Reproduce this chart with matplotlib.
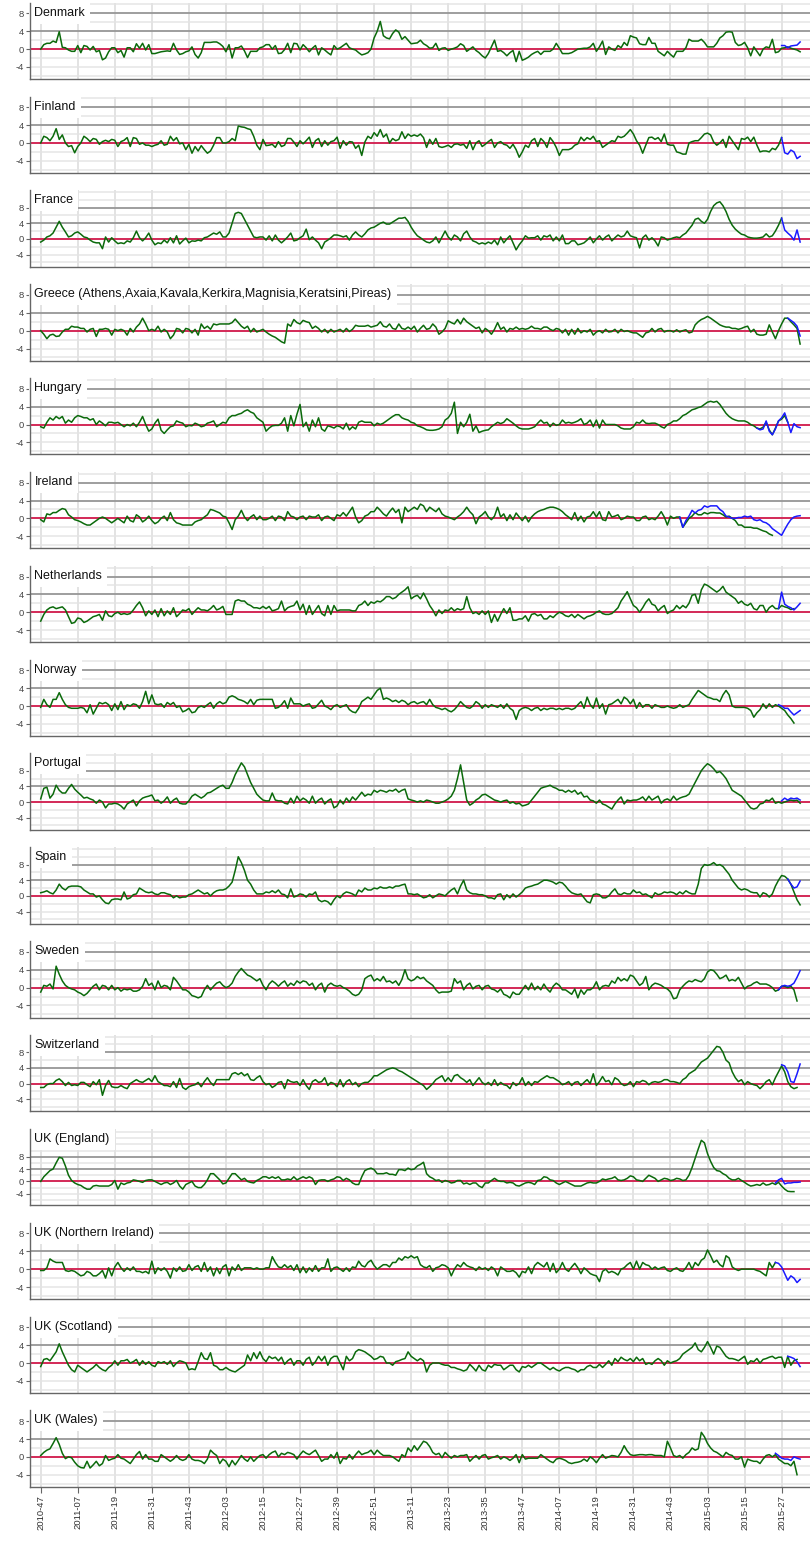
import matplotlib
matplotlib.use("Agg")
import matplotlib.pyplot as plt

# weekly z-scores, index 0 = 2010-47
tick_labels = ["2010-47", "2011-07", "2011-19", "2011-31", "2011-43", "2012-03",
               "2012-15", "2012-27", "2012-39", "2012-51", "2013-11", "2013-23",
               "2013-35", "2013-47", "2014-07", "2014-19", "2014-31", "2014-43",
               "2015-03", "2015-15", "2015-27"]

denmark = [0, 1.0, 1.3, 1.3, 1.8, 1.5, 3.9, 0.4, 0.3, -0.2, -0.5, -0.5,
           0.8, -0.8, 0.8, 0.6, -0.2, 0.6, -0.6, -0.3, -2.4, -2.0, -0.6, 0.3,
           0.3, -0.8, -0.3, -1.8, 0.3, 0.3, -0.6, 1.2, 0.2, 1.3, -0.2, 1.0,
           -1.0, -1.0, -0.8, -0.6, -0.5, -0.4, -0.5, 1.3, -0.2, -1.2, -1.0, -0.6,
           -0.4, 0.5, -1.2, -2.0, -0.8, 1.5, 1.5, 1.5, 1.6, 1.6, 1.2, 0.6,
           -0.6, 1.0, -2.0, 0.3, 0.3, 0.7, -0.4, -1.9, -0.5, -0.5, -0.5, 0.3,
           0.5, 1.0, 1.0, 0.0, 0.8, -1.0, -0.9, -0.1, 1.3, -0.8, 1.3, 1.2,
           -0.2, 1.0, 0.3, -0.6, 0.2, 0.8, -1.3, 0.3, -0.2, -0.8, -1.3, 0.8,
           0, 0.3, 0.8, 1.3, 0.3, 0, -0.2, -0.8, -1.3, -1.1, -0.8, 0,
           2.5, 4.0, 6.2, 3.0, 2.5, 2.3, 3.5, 4.3, 3.8, 2.2, 2.8, 2.0,
           1.2, 1.3, 1.4, 2.0, 1.2, 0.8, 0.2, 0.3, 1.3, -0.3, 0.2, 0.3,
           -0.3, 0, 0.2, 0.5, 1.2, 0.8, -0.5, 0, 0.5, -0.3, -0.8, -1.5,
           -2.0, -1.0, 0.5, 2.0, -0.5, -0.3, -0.8, -1.5, -0.8, -0.3, -2.8, -0.5,
           -2.5, -2.2, -1.8, -1.2, -0.8, -0.5, -1.2, -0.5, -0.5, -0.5, 0, 1.3,
           0.2, -1.0, -1.0, -1.0, -0.8, -0.4, 0, 0.1, 0.2, 0.2, 0.5, 1.3,
           -0.5, 0.5, 1.8, -1.2, 0.5, 0, -0.3, 0.8, 0.3, 1.5, 0.8, 3.0,
           2.7, 2.5, 1.2, 1.0, 1.0, 2.6, 1.3, 1.3, -0.5, -1.0, -1.5, -0.5,
           -1.2, -1.8, -0.5, -0.5, -0.5, 0.3, 2.2, 1.8, 1.8, 1.8, 2.2, 1.5,
           0.5, 0.5, 0.5, 1.3, 2.5, 3.0, 3.8, 3.9, 3.8, 1.5, 0.8, 1.0,
           1.5, 0.3, -1.5, 0.5, -0.5, -1.5, 0, 0.5, 0.3, 2.2, -0.8, -0.6,
           0.2, 0.3, 0.5, 0.2, 0, -0.2, -0.6]
denmark_blue_start = 240
denmark_blue = [0.8, 0.8, 0.3, 0.7, 0.8, 0.9, 1.6]

finland = [0, 1.5, 1.2, 0.5, 1.5, 3.2, 0.8, 1.8, 0, -0.8, -0.6, -2.2,
           -0.8, 0, 1.5, 1.0, 0.3, 1.0, 0.8, -0.3, 0.3, 0.6, 0.3, 0.8,
           0.6, -0.8, 0.3, 0.6, 1.2, -0.8, 1.2, 1.0, -0.3, 0, -0.5, -0.5,
           -0.8, -0.5, -0.3, 0.5, -0.5, -0.3, 1.5, 0.5, 1.2, -0.2, 0, -1.5,
           -0.3, -2.3, -0.8, -1.8, -0.6, -1.5, -2.3, -1.8, -0.5, 1.2, 1.2, 0,
           0, 0.3, 1.0, 0.5, 3.8, 3.6, 3.5, 3.2, 3.0, 1.5, -0.5, -1.5,
           0.8, -0.6, -0.5, -0.3, -1.0, 0.3, -0.8, -0.5, 1.0, 1.0, 0.2, -0.8,
           0.5, -0.2, 0.5, 1.3, -1.0, 0.5, 1.0, -0.8, 0.5, -0.5, 0.3, 0.5,
           1.3, -1.2, 0.5, -0.5, 0.3, 0.2, -1.2, -0.5, -2.8, 0.2, 1.5, 1.0,
           2.3, 1.5, 3.0, 1.3, 2.0, 0, 1.0, 0.5, 0.8, 2.5, 1.0, 2.0,
           1.5, 1.8, 1.5, 2.0, 1.2, -1.0, 0.8, -0.3, 1.0, -0.8, -1.0, -0.8,
           -0.5, -1.0, -0.3, -0.2, -0.5, -0.3, -1.2, 0.5, -1.5, 0, 0.5, -0.8,
           -0.3, 0.3, 0.8, -1.0, 0, 0.3, -0.3, -0.5, -1.2, -0.3, -1.5, -3.2,
           -2.0, -0.5, -1.0, 0.5, 1.0, -0.8, 1.0, 0.3, -1.0, 1.2, 0.3, -1.0,
           -2.8, -1.5, -1.5, -1.5, -1.2, -0.5, -0.2, 1.3, 0.5, 1.2, 0.8, 1.5,
           0.3, 0.5, -1.0, -0.5, 0, 0.5, 0.3, 1.5, 1.2, 1.5, 2.2, 3.0,
           2.0, 0.5, -0.5, -2.3, -0.5, 1.2, 1.3, 0.8, 1.2, 0.3, 2.0, -0.3,
           -0.5, -0.5, -2.0, -2.2, -2.5, -2.5, 0, 0.3, 0.5, 0.5, 1.2, 2.0,
           2.2, 1.8, 0.2, -0.5, 0, 0.8, -1.0, 1.5, 0.5, -0.5, -1.5, 1.0,
           0.8, 1.3, 0.3, 1.3, -0.5, -2.0, -1.8, -1.8, -2.0, -1.2, -1.5, -0.5,
           1.2]
finland_blue_start = 240
finland_blue = [1.2, -2.2, -2.5, -1.6, -2.0, -3.5, -3.0]

france = [-0.8, -0.3, 0.5, 0.8, 1.5, 3.0, 4.5, 3.0, 1.8, 0.5, 0.8, 1.5,
          1.8, 1.2, 0.5, 0.3, -0.3, -0.8, -1.0, -1.0, -2.5, 0.5, -0.8, 0.3,
          -0.5, -1.2, -1.0, -1.2, -0.5, -0.8, 0.3, 2.0, 0.3, -0.5, 0.3, 1.5,
          -0.3, -1.5, -1.0, -1.2, -0.3, -1.0, 0.3, -1.0, 0.8, -1.3, -0.5, 0.2,
          -1.0, -0.5, -0.6, -0.3, -0.5, 0.3, 0.5, 1.0, 1.5, 1.2, 1.8, 0.5,
          0.5, 1.5, 4.0, 6.5, 6.8, 6.5, 5.0, 3.5, 2.0, 0.5, 0.3, 0.5,
          0.5, -0.3, 0.8, -0.5, 1.0, -0.3, -1.0, -0.3, 0.5, 1.5, -0.5, -0.3,
          0.3, 0.8, 2.5, -0.2, 0.5, -0.3, -1.0, -2.5, -0.8, -0.3, 0.3, 1.0,
          1.0, 0.8, 0.5, 0.8, -0.3, 1.0, 1.8, 1.0, 0.5, 1.3, 2.3, 2.8,
          3.0, 3.5, 4.0, 4.3, 3.8, 3.8, 4.3, 4.8, 5.3, 5.3, 5.5, 4.5,
          3.0, 1.8, 0.8, 0.3, -0.3, -0.8, -1.0, -0.5, 0.5, -1.0, 0.5, 2.0,
          0.5, -0.3, 1.0, 0.5, -0.5, 1.3, 2.0, 0.5, -0.5, -0.8, -1.3, -1.0,
          -1.3, -0.8, -1.2, -0.3, -1.5, 0.5, -1.0, 0, 0.8, -1.0, -2.8, -1.5,
          -0.5, 0.8, 0.2, 0.3, 0.3, 0.8, -0.3, 0.8, 0.5, 1.0, -0.5, 0.5,
          -0.5, 1.0, -1.2, -1.2, -0.5, -0.5, -1.5, -1.3, -1.0, -0.3, 0.5, -1.0,
          0, 0.8, -0.3, 0.5, 1.0, -0.5, 0.3, 1.0, 0.5, 0.8, 2.0, 0.8,
          0.5, 0.3, -2.3, 0.3, 1.0, -0.3, 0.3, -0.5, -1.8, 0.5, 0.3, -0.3,
          0, 0.3, 0.5, 0.3, 1.0, 1.5, 2.5, 3.5, 5.0, 5.3, 4.5, 4.0,
          5.0, 7.0, 8.5, 9.2, 9.5, 8.5, 7.0, 5.0, 3.5, 2.5, 1.8, 1.2,
          1.0, 0.5, 0.3, 0.2, 0.2, 0.3, 0.5, 1.3, 0.5, 0.8, 2.0, 3.5,
          5.3]
france_blue_start = 240
france_blue = [5.3, 2.3, 1.5, 0.8, -0.3, 2.3, -0.8]

greece = [0, -0.8, -1.8, -1.0, -0.8, -1.3, -1.2, -0.3, 0.3, 0.3, 1.0, 0.8,
          0.8, 0.5, 0.5, -0.3, 0.3, 0.5, -1.3, 0.3, 0.3, 0.5, 0.3, -1.0,
          0.3, 0, 0.3, 0, -1.0, 0.5, -0.3, 0.8, 1.5, 2.8, 1.5, 0,
          0.3, 0, 1.0, -0.3, 0.3, -0.3, -1.8, -1.0, 0.5, 0.3, -0.5, 0.5,
          0.3, -0.5, 0.3, -1.0, 1.5, 0.5, 1.0, 0.3, 1.5, 1.3, 1.5, 1.5,
          1.5, 1.5, 1.8, 2.6, 1.8, 1.0, 0.5, 1.0, -0.3, 0.5, -0.3, 0,
          0.3, -0.3, -0.8, -1.2, -1.5, -2.0, -2.5, -2.8, 1.5, 1.0, 2.5, 1.8,
          1.5, 2.3, 2.0, 1.8, 0.5, 1.0, 0.5, -0.3, 0.3, -0.5, 0.3, -0.3,
          0, 0.3, -0.3, 0.5, -0.2, 0.3, 1.2, 1.0, 1.0, 1.0, 1.2, 0.8,
          1.0, 1.2, 2.0, 1.0, 0.8, 1.5, 0.5, 0.3, 1.5, 0.5, 0.3, 0.8,
          0.3, 1.0, -0.3, 0.5, 1.2, 0.3, 0.5, 1.5, 0.8, -0.8, -0.3, 0.5,
          2.2, 1.8, 1.5, 2.5, 1.5, 2.8, 2.0, 1.5, 1.0, 0.5, 0.8, -0.5,
          0.5, 0, -0.8, 0.3, 1.8, 0.3, 0.8, -0.3, 0.5, 0.3, 0.8, 0.3,
          0.5, 0.3, 0.5, 1.0, 0.5, 0.5, 0.3, 0.8, 0.8, 0.3, 0, 0.5,
          0.3, -0.5, 0.3, -1.0, 0.3, -0.8, 0.5, -0.5, 0, -0.3, 0.3, -1.0,
          -0.3, 0, -0.5, 0.3, -0.3, -0.2, 0.3, -0.5, 0.3, -0.2, 0, -0.3,
          -0.5, -0.5, -1.0, -1.5, -0.5, -0.3, 0.5, -0.3, 0.3, 0.5, -0.3, 0,
          0, -0.3, 0.2, -0.3, 0, 0.2, -0.5, -0.3, 1.3, 2.0, 2.5, 2.8,
          3.2, 2.8, 2.3, 1.8, 1.3, 1.0, 0.8, 0.8, 0.5, 0.5, 0.3, 0.5,
          0.8, 1.0, -0.3, 0.3, -0.8, -1.0, -1.0, -0.8, 1.3, -0.3, -1.8, 0,
          1.5, 2.8, 2.8, 2.0, 1.3, 0.5, -3.0]
greece_blue_start = 242
greece_blue = [2.8, 2.3, 1.8, 1.0, -1.2]

hungary = [-0.5, -0.8, 0.5, 1.5, 1.0, 1.8, 1.3, 1.8, 0.3, 1.0, 0.5, 1.5,
           2.0, 1.8, 1.5, 1.5, 1.0, 1.3, 0, 0.8, 0.3, -0.3, 0.5, 0.5,
           0.3, 0.5, 0, -0.5, 0, -0.3, 0.3, -0.5, 0.5, 1.8, 0, -1.5,
           -1.0, 0.3, 1.2, -1.3, -2.0, -1.2, -0.5, -0.3, 0.8, 0.5, 0.3, -0.5,
           -0.2, -0.3, 0.3, 0, -0.5, -0.3, 0.3, 0.5, 0.8, -0.5, 0, 0.5,
           0.3, 1.5, 2.0, 2.0, 2.3, 2.5, 3.0, 3.3, 2.8, 2.5, 1.5, 1.0,
           0.5, -1.5, -0.8, -0.3, -0.2, -0.2, 0.3, 1.5, -1.5, 2.0, -0.3, 2.3,
           4.5, -0.5, 0.5, -1.5, 1.0, -0.5, 1.5, -1.0, -1.5, -0.3, -0.5, -0.8,
           -0.3, -0.5, -1.0, 0.3, -1.2, -0.5, -1.0, 0.5, 0.8, 0.5, 0.5, 0.5,
           -0.3, 0.3, 0, 0.3, 0.8, 1.3, 1.8, 2.2, 2.2, 1.5, 1.2, 1.0,
           0.5, 0.3, -0.3, -0.5, -0.8, -1.2, -1.3, -1.3, -1.2, -1.0, -0.5, 1.0,
           1.5, 2.5, 5.0, -2.0, 0.5, -0.5, 0.5, 2.3, -1.5, -0.3, -1.8, -1.5,
           -1.3, -1.2, -0.5, 0, 0.5, 0.2, 0.5, 1.3, 0.8, 0.3, -0.3, -0.8,
           -1.0, -1.0, -1.0, -0.8, -0.5, 0.3, 1.0, 0.3, 0.5, -0.5, 0.3, -0.2,
           0, 1.0, 0.3, 0.5, 0.3, 0.5, 0.8, 1.3, 0, 0.3, 1.0, -0.5,
           1.0, -0.8, 1.0, 0, 0, 0, 0, -0.3, -0.8, -1.0, -1.0, -1.0,
           -0.5, 0.5, 0.3, 1.0, 0.3, 0.2, 0.3, 0.3, 0, -0.5, -0.8, 0,
           0.3, 0.8, 0.8, 1.3, 2.0, 2.3, 2.8, 3.3, 3.5, 3.8, 4.0, 4.5,
           5.0, 5.2, 5.0, 5.2, 4.5, 3.5, 2.5, 1.8, 1.3, 1.0, 0.8, 0.8,
           0.8, 0.5, 0, -0.3, -0.8, -1.0, -0.6, 0.5, -1.2, -2.3, -0.8, 0.8,
           1.2, 2.0, 0.5]
hungary_blue_start = 232
hungary_blue = [-0.8, -1.2, -1.0, 0.8, -1.5, -2.3, -1.0, 0.8, 1.5, 2.6, 0.5, -1.8,
                0.2, -0.5, -0.7]

ireland = [-0.3, -0.8, 1.0, 0.8, 1.3, 1.3, 1.8, 2.2, 2.0, 0.8, 0.3, -0.3,
           -0.5, -0.8, -1.2, -1.5, -1.5, -1.0, -0.5, 0, 0.3, 0, -0.5, -1.0,
           -0.5, 0, -0.5, -1.0, 0.5, -0.5, -0.8, 0.8, 0.3, -0.8, -0.3, 0.5,
           -0.5, -1.2, -0.8, 0, 0.5, -0.5, 1.3, -0.3, -1.0, -1.2, -1.5, -1.5,
           -1.5, -1.5, -0.8, -0.5, -0.3, 0.3, 0.8, 2.0, 1.8, 1.5, 1.2, 0.5,
           0.3, -1.0, -2.5, -0.3, 0.5, 1.8, 0.3, -0.5, 0.3, 0.8, -0.3, 0.5,
           -0.3, -0.3, 0, 0.5, -0.5, 0.5, 0.3, -0.5, 1.5, 0.5, 0.3, -0.3,
           0.3, 0.5, -0.3, 0.5, 0.3, 0.3, 0.8, -0.5, 0.3, 0.5, 0, -0.5,
           0.8, 0.5, 1.3, 0.5, 1.5, 2.5, 0.3, -1.0, -0.5, 0.5, 0.8, 1.5,
           1.5, 2.5, 1.8, 1.0, 0.5, 1.5, 2.3, 1.3, 2.0, -1.0, 2.5, 1.5,
           2.0, 2.5, 2.0, 3.2, 2.8, 1.5, 2.5, 2.0, 1.5, 2.3, 1.0, 0.5,
           0.3, 0, -0.3, 0.3, 0.8, 1.5, 2.5, 1.5, 0.8, -1.2, 0.3, 0.8,
           1.5, 0.3, -0.3, 0.5, 2.5, 0.3, 1.0, -0.5, 0.8, -0.3, 1.2, 0.3,
           -0.5, 0.5, -0.8, 0.3, 1.0, 1.5, 1.8, 2.0, 2.3, 2.5, 2.5, 2.3,
           2.0, 1.5, 0.8, 0.3, -0.3, 1.3, -0.5, 0.5, -0.8, 0.3, 0.5, 1.5,
           0.3, 1.5, -0.3, -0.5, 1.5, 0.3, 0.5, 0.8, -0.3, 0, 0.5, 0.3,
           0.3, -0.5, -0.5, 0.3, 0.5, -0.3, 0, -0.3, 0.5, 1.5, 0.3, -1.5,
           0.5, 0, 0.3, 0.3, -2.0, -1.0, 0, 0.5, 1.3, 0.8, 0.8, 1.3,
           1.0, 1.3, 1.3, 1.2, 1.2, 0.8, 0.3, 0.5, 0, -0.5, -1.5, -1.5,
           -2.0, -2.0, -2.0, -2.2, -2.2, -2.5, -2.8, -3.0, -3.5, -3.8]
ireland_blue_start = 207
ireland_blue = [0.3, -2.0, -0.5, 0.5, 1.8, 1.2, 1.8, 2.0, 2.8, 2.5, 2.8, 2.8,
                2.8, 2.0, 1.5, 0.5, 0.3, 0, 0, 0.2, 0.2, 0.5, 0.3, 0.5,
                -0.3, -0.5, -0.3, -0.8, -1.0, -1.5, -2.3, -2.8, -3.3, -3.8, -2.5, -1.3,
                -0.3, 0.3, 0.5, 0.6]

netherlands = [-2.0, -0.5, 0.5, 1.0, 1.2, 0.8, 1.0, 1.2, 0.5, -1.0, -2.5, -2.3,
               -1.3, -1.5, -2.3, -2.0, -1.5, -1.0, -0.8, -0.5, -1.8, 0.3, -0.8, -1.0,
               -0.3, 0, -0.5, -0.3, -0.5, -0.3, 0.5, 1.5, 2.3, 1.0, -0.8, 0.3,
               -0.5, 0.5, -1.0, 0.8, -0.8, 0.3, -0.5, 1.0, -1.0, -0.3, 0.5, 0.3,
               0.8, -0.5, 0.3, 1.0, 0.5, 0.5, 0.3, 0.8, 1.5, 0.5, 0.8, 1.3,
               -0.5, -0.5, -0.5, 2.5, 2.8, 2.5, 2.5, 1.8, 1.5, 1.0, 1.0, 0.8,
               1.3, 0.8, 1.3, 0.3, 0.5, 0.8, 2.5, 0.3, 1.0, 1.3, 1.5, 2.5,
               0.5, 1.8, -0.5, 1.5, -0.5, 0.5, 1.5, -0.3, -0.8, 1.5, -0.5, 1.5,
               0.3, 0.5, 0.5, 0.5, 0.5, 0.3, 0.3, 1.5, 1.8, 2.5, 1.5, 2.3,
               2.0, 2.5, 2.3, 2.8, 3.5, 3.5, 3.0, 3.3, 4.0, 4.5, 5.0, 5.7,
               3.0, 3.5, 3.8, 3.0, 4.3, 3.0, 1.5, 0.5, -0.8, 0.5, -0.3, 0.5,
               0.3, 1.0, 0.3, 0.8, 0.5, 0.8, 3.5, 1.0, -0.3, 0, -0.5, 0.3,
               -0.5, 0.3, -2.3, -0.5, -2.0, -0.5, 0.8, -0.3, 1.0, -1.8, -1.8, -1.5,
               -1.5, -0.8, -2.0, -0.5, -0.3, -0.8, -0.5, -1.5, -1.5, -0.8, -1.2, -0.5,
               0, -0.3, -0.8, -1.0, -0.5, -1.2, -0.5, -1.0, -1.5, -1.0, -0.8, -0.5,
               0, 0.3, -0.3, -0.5, -0.5, -0.3, 0.3, 1.0, 2.5, 3.5, 4.6, 3.0,
               1.5, 1.0, 0, 1.0, 2.2, 3.0, 1.8, 1.5, 0.3, 1.0, 1.5, -0.3,
               0.2, 0.5, 1.5, 0.8, 1.5, 1.0, 2.0, 3.8, 4.0, 2.0, 5.0, 6.3,
               6.0, 5.5, 5.0, 4.5, 5.0, 5.8, 4.5, 4.0, 3.5, 3.0, 2.0, 2.5,
               1.8, 1.5, 2.0, 0.8, 0.5, 1.5, 1.5, 0, 1.0, 1.5, 0.8, 0.8,
               1.5, 1.2, 1.0, 0.6, 0.8]
netherlands_blue_start = 239
netherlands_blue = [0.8, 4.5, 1.8, 1.3, 1.0, 0.5, 1.2, 2.0]

norway = [-0.3, 1.5, 0.3, -0.3, 1.5, 1.5, 3.0, 1.5, 0.3, -0.3, -0.5, -0.5,
          -0.5, -0.3, -0.5, -1.5, 0.3, -1.8, -0.5, 0.8, 0.5, 0.8, 0.3, -1.0,
          0.5, -0.8, 1.0, -0.8, 0.3, 0, 0.5, 0.3, -0.5, 1.0, 3.3, 0.5,
          2.5, 0.5, 0.3, 0.5, -0.3, 0.8, 0.3, 0.8, -0.3, 0, -1.3, -1.0,
          -0.5, -1.5, -1.3, -0.3, 0, -0.3, 0.3, 0.8, -0.5, 0.5, 1.0, 0.5,
          0.8, 2.0, 2.3, 2.0, 1.5, 1.3, 1.0, 0.5, 1.5, 0.3, 1.3, 1.5,
          1.5, 1.5, 1.5, 1.5, -0.5, -0.3, 0.3, 1.2, -0.5, 1.8, 0.5, 0.5,
          0.5, 0, 0.3, 0.5, -0.5, -0.3, 0.5, 1.3, 0, -0.3, -0.8, 0,
          0.3, -0.3, 0, 0.3, -0.8, -1.3, -1.5, -0.5, 1.0, 1.5, 2.0, 1.5,
          2.5, 3.5, 4.0, 1.5, 1.8, 1.5, 1.0, 1.3, 0.8, 1.3, 1.0, 0.3,
          0.8, 1.0, 0.5, 0.8, 1.0, 0.3, 1.5, 0.3, -0.3, -0.5, -0.8, -0.5,
          -1.0, -1.3, -0.8, 0, 1.0, 0.3, -0.3, -0.5, 0, 1.0, 0.5, -0.5,
          0.3, -0.3, 0.3, 0, -0.3, 0.3, -0.5, 0.5, -0.5, -1.0, -3.0, -1.0,
          -0.5, -0.3, -0.5, -1.0, -0.5, -0.3, -1.0, -0.5, -0.8, -0.5, -0.5, -0.8,
          -0.5, -0.8, -0.5, -0.5, -0.8, -0.5, 0.3, 1.0, -0.5, 2.0, 0.3, -0.5,
          1.8, -0.5, 0.5, -1.8, 0.3, 0.5, 1.0, 1.5, 0.5, 2.0, 1.5, 0.5,
          1.5, -0.5, 0.8, -0.3, 0.3, 0.3, -0.5, 0.3, 0, -0.3, -0.3, 0,
          -0.3, -0.5, -0.3, 0.3, -0.3, 0, 0.3, 1.5, 2.5, 3.5, 3.0, 2.5,
          2.0, 1.8, 1.5, 1.5, 1.0, 2.5, 3.5, 2.5, 0, -0.3, -0.3, -0.3,
          -0.3, -0.5, -1.0, -2.5, -1.5, -0.8, 0.5, -0.5, 0.5, -0.3, 0.3, 0,
          -0.5, -1.0, -2.0, -2.8, -3.8]
norway_blue_start = 239
norway_blue = [0.3, 0, -0.5, -0.5, -1.3, -2.0, -1.5, -1.0]

portugal = [0.8, 3.5, 3.8, 1.0, 2.0, 4.3, 3.0, 2.3, 2.3, 3.5, 4.5, 3.3,
            2.5, 1.8, 1.0, 1.2, 0.8, 0.5, -0.3, 0.5, 0, -1.5, -0.5, -0.5,
            -0.3, -0.5, -1.0, -1.8, -0.5, 0, 0.5, -1.0, 0.3, 1.0, 1.3, 1.5,
            1.8, 0.3, 0.5, -0.3, 0.3, 1.3, -0.3, 0.5, 1.0, -0.3, -0.5, -0.5,
            0.3, 1.5, 2.0, 1.5, 1.0, 1.5, 2.3, 2.5, 3.0, 3.5, 4.0, 4.3,
            3.5, 3.5, 5.0, 7.0, 8.5, 10.0, 9.0, 7.0, 5.0, 3.5, 2.0, 1.2,
            0.5, 0.3, 0.3, 2.3, 0.5, 0.3, 0.3, -0.3, -0.5, 1.0, -0.3, 1.5,
            0.3, 1.0, 0.5, -0.3, 1.5, -0.3, 0.5, 1.0, -0.5, 0.3, 0.8, -1.5,
            -1.0, 0.5, -0.5, 1.0, 0, 1.3, 0.5, 1.5, 2.5, 1.5, 2.0, 1.8,
            3.0, 2.5, 3.0, 2.8, 2.5, 3.0, 2.8, 3.3, 2.5, 3.0, 3.3, 0.8,
            0.5, 0.3, 0, 0.3, 0, 0.5, 0.3, 0, -0.3, -0.3, 0, 0.3,
            0.8, 1.5, 3.0, 6.0, 9.5, 5.0, 0.5, -0.8, -0.3, 0.5, 1.0, 1.8,
            2.0, 1.5, 1.0, 0.5, 0.3, 0, 0.3, 0.5, -0.3, 0, -0.5, -0.3,
            -1.0, -0.8, -0.5, 0.5, 1.5, 2.5, 3.5, 3.8, 4.0, 4.3, 3.8, 3.5,
            3.0, 3.0, 2.5, 3.0, 2.5, 3.0, 2.0, 2.5, 1.3, 1.5, 0.5, 0.3,
            -0.3, 0.5, -0.5, -0.8, -1.3, -1.8, -0.5, 0.5, 1.3, -0.5, 0.5, 0.3,
            0.5, 0.5, 0.8, 1.3, 0.3, 1.5, 0.5, 1.0, 1.5, -0.3, 0.5, 0.8,
            0.3, 1.5, 0.5, 1.0, 1.3, 1.5, 2.0, 3.5, 5.0, 6.5, 8.0, 9.0,
            9.8, 9.3, 8.5, 7.5, 7.8, 7.0, 6.0, 4.5, 3.0, 2.5, 2.0, 1.5,
            0.5, -0.5, -1.5, -1.8, -1.5, -0.5, -0.3, 0.5, 0.3, 1.0, -0.3, 0,
            -0.3, 0, 0.3, 0.5, 0.3, 0.5, -0.3]
portugal_blue_start = 240
portugal_blue = [0.3, 1.0, 0.5, 1.0, 0.8, 1.0, 0.5]

spain = [0.8, 1.0, 1.3, 0.8, 0.5, 1.5, 3.0, 2.0, 1.5, 2.3, 2.5, 2.5,
         2.5, 2.3, 1.5, 1.0, 0.5, 0.5, -0.3, 0, -1.0, -1.8, -2.0, -1.0,
         -0.8, -0.8, -1.0, 1.0, -0.8, -0.5, 0.3, 0.5, 2.0, 1.5, 1.0, 0.8,
         1.0, 0.5, 0.3, 0.8, 0.8, 0.5, 0.3, -0.5, 0, -0.5, -0.3, -0.3,
         0.3, 0.5, 1.0, 1.5, 1.0, 0.5, 0.8, 0, 0.8, 1.3, 1.5, 1.5,
         1.8, 2.5, 3.5, 6.5, 10.0, 8.5, 6.5, 4.0, 3.0, 1.5, 0.5, 0.5,
         0.5, 1.0, 0.8, 1.3, 0.8, 1.5, 0.5, 0.3, -0.5, 1.8, -0.3, 0,
         0.5, 0.3, -0.3, 0.5, 0.3, 1.0, -1.0, -1.5, -1.2, -1.5, -2.3, -1.0,
         0, -0.5, 0.5, 1.0, 0.8, 0.5, 0, 1.5, 1.0, 2.0, 1.5, 1.5,
         2.0, 1.8, 2.3, 2.0, 2.0, 2.3, 2.0, 2.5, 2.5, 2.8, 3.0, 0.5,
         0.5, 0.3, 0.5, 0, -0.5, -0.3, 0.3, -0.5, 0, 0.5, 0.3, 0,
         0.8, 1.5, 2.0, 0.5, 2.5, 4.0, 1.5, 0.8, 0.5, 0.5, 0.3, 0.3,
         0, -0.5, -0.5, -0.8, 0.3, 0.5, -1.0, 0.3, -0.5, 0.5, -0.3, 0.3,
         1.0, 2.0, 2.3, 2.5, 2.8, 3.0, 3.5, 4.0, 4.0, 3.8, 3.5, 3.0,
         3.5, 3.3, 2.5, 1.5, 0.8, 0.5, 0.3, 0.5, -0.5, -1.5, -1.8, 0.3,
         0.5, 0.3, -0.5, -0.5, 0, 1.0, 1.8, 0.5, 0.3, 0.8, 0.5, 0.5,
         1.5, 0.8, 1.0, 0.3, 0.5, 0, -0.5, 0.8, 0.3, 0.5, 1.0, 0.8,
         1.0, 0.8, 0.3, 1.0, 0.5, 1.3, 0.8, 0.5, 0.5, 3.0, 7.0, 8.0,
         7.8, 8.0, 8.5, 7.8, 8.0, 7.5, 6.5, 5.5, 4.0, 3.0, 2.0, 1.5,
         1.8, 1.5, 1.0, 0.8, 0.8, -0.3, 0.8, 0.5, -0.3, 0.5, 2.5, 4.0,
         5.2, 5.0, 4.3, 3.0, 1.0, -1.0, -2.3]
spain_blue_start = 242
spain_blue = [4.3, 3.0, 2.0, 2.3, 3.8]

sweden = [-1.0, 0.5, 0.3, 0.8, -0.3, 4.8, 3.0, 1.5, 0.5, 0, -0.3, -0.5,
          -1.0, -1.3, -1.8, -1.3, -0.5, 0.3, 0.8, -0.5, 0.5, 0.3, -0.5, 0.5,
          -0.5, 0, -0.8, -0.3, -0.5, -0.3, -0.8, -0.8, -0.5, 0.3, 2.0, 0.5,
          1.0, -0.5, 1.5, 0, 0.5, 0.3, -0.5, 2.3, 1.5, 0.5, -0.5, -0.5,
          -1.0, -1.8, -2.0, -2.3, -2.0, -0.5, 0.5, -0.5, 0.3, 1.0, 1.3, 0.5,
          0, 0.3, 1.0, 2.5, 3.5, 4.3, 3.5, 2.8, 2.5, 2.0, 1.5, 2.0,
          0.5, -0.5, 0.8, 1.5, 1.0, 0.3, 1.0, 1.5, 0.3, 1.0, 0.5, 1.5,
          1.0, 1.5, 1.3, 0.5, 1.0, -0.5, 0.5, 1.0, -1.0, 0.5, 1.0, 0.5,
          0.3, 0.5, 0, -0.3, -0.8, -1.5, -1.8, -1.5, -0.5, 2.0, 2.5, 2.8,
          1.5, 2.0, 1.5, 2.5, 1.3, 1.5, 1.0, 1.5, 0.5, 1.8, 4.0, 2.0,
          1.5, 1.8, 2.5, 2.0, 2.3, 1.5, 1.0, 0.5, -0.5, -1.2, -1.0, -1.0,
          -1.0, -0.8, 2.0, 1.0, 1.5, -0.5, 0.5, 1.0, -0.3, 0.3, 0.5, -0.5,
          0.3, 0.5, -0.3, -0.5, -1.0, -0.3, -1.5, -1.8, -2.3, -1.0, -1.5, -1.5,
          -0.5, 0.5, -0.5, 1.0, -0.5, 0.3, -0.5, 0.8, -0.3, -1.0, 0.3, 1.0,
          0.5, -0.5, -0.5, -1.0, -1.5, -0.3, -2.3, -0.5, -1.5, -0.5, -0.5, 0,
          1.3, -0.5, 0.3, 0.5, 0.3, 1.5, 1.0, 2.3, 1.5, 2.0, 1.5, 2.8,
          2.5, 1.5, 0.5, 1.0, 2.5, -0.5, 0.5, 1.0, 0.8, 0.5, 0, -0.3,
          -1.0, -2.5, -2.3, -0.5, 0.3, 1.0, 1.5, 1.3, 1.8, 1.5, 1.3, 2.0,
          3.5, 4.0, 3.8, 3.0, 2.0, 2.3, 2.8, 1.5, 1.8, 1.5, 2.3, 1.0,
          -0.3, 0.3, 0.5, 1.0, 1.3, 0.8, 0.8, 0.8, 0.5, 0, -0.8, -0.5,
          0.3, 0.3, 0, 0.3, -0.5, -3.0]
sweden_blue_start = 239
sweden_blue = [-0.5, 0.3, 0.5, 0.3, 0.5, 1.0, 2.3, 3.8]

switzerland = [-1.0, -1.0, -0.3, 0, 0, 0.8, 1.2, 0.5, -0.5, 0.3, -0.5, -0.3,
               -0.5, 0.3, 0.3, -0.3, -0.8, 0.5, -0.3, 1.0, -3.0, -0.5, 0.8, -0.8,
               -1.0, -1.0, -0.5, -1.0, -1.3, 0, 0.5, 1.0, 0.5, 0.3, 0.8, 1.3,
               0.5, 2.0, 0.5, 0, -0.5, -0.5, -0.8, 0.5, -1.0, 1.3, -1.0, -1.5,
               -0.8, -0.5, -0.3, 0.3, -0.8, 0.5, 1.5, 0.3, -0.5, 1.0, 1.0, 1.0,
               1.0, 1.0, 2.5, 2.8, 2.3, 2.8, 2.0, 2.5, 1.0, 0.8, 1.5, 2.0,
               0.5, -0.3, 0, -1.0, -0.5, 0.3, 0.5, -1.3, 1.0, 0.5, 0.3, 0.5,
               -0.5, 1.0, -0.5, -1.5, 0.5, 1.0, 0.3, 0.5, 1.5, -0.5, 0.3, 0,
               -0.8, 1.0, -0.8, 0.5, 1.0, -0.3, 0.3, -0.8, 0, 0.3, 0.3, 1.0,
               2.0, 2.0, 2.5, 3.0, 3.5, 3.8, 4.0, 3.8, 3.3, 3.0, 2.5, 2.0,
               1.5, 1.0, 0.5, 0, -0.5, -1.5, -0.8, 0, 1.0, 1.5, 2.0, 0.5,
               1.5, 0.5, 2.0, 2.3, 1.5, 1.0, 0.3, 1.0, -0.5, 0.5, 1.5, 0.3,
               -0.3, 0.3, -0.5, 1.0, -0.5, 0.3, -0.3, -0.5, -1.3, 0.3, -0.5, 0,
               1.5, -0.5, 0.5, -0.5, 0.5, 0.3, 1.0, 1.5, 2.0, 1.5, 1.5, 1.0,
               0.5, -0.3, 0, 0.5, -0.5, 0.3, 0.5, -0.5, 0.3, 1.0, 0, 2.5,
               -0.5, 0.5, 1.8, 0.5, 0.8, -0.3, 1.5, 1.0, 0, -0.5, -0.3, 0.5,
               -0.8, 0.5, 0.3, 0.8, 0.5, -0.3, 0.3, 0.5, 0.3, 0.5, 1.0, 1.0,
               0.5, 0.5, 0.3, 0, 1.0, 1.5, 2.5, 3.0, 3.5, 4.5, 5.5, 6.0,
               6.5, 7.5, 8.5, 9.5, 9.3, 8.0, 6.0, 5.3, 3.0, 1.5, 0.5, 1.0,
               -0.3, 0.5, 0, -0.3, -0.5, -1.3, -0.5, 0.5, 1.0, -0.3, 1.5, 3.0,
               4.5, 3.0, 0.5, -0.8, -1.3, -1.0]
switzerland_blue_start = 240
switzerland_blue = [4.8, 4.5, 3.0, 0.5, 0.3, 2.5, 5.0]

uk_england = [0, 1.5, 2.5, 3.5, 4.0, 6.0, 7.8, 7.5, 5.0, 2.0, 0.3, -0.5,
              -1.0, -1.3, -2.0, -2.5, -2.5, -1.5, -1.3, -1.5, -1.5, -1.5, -1.5, -1.0,
              0.3, -2.5, -0.5, -1.0, -0.5, -0.3, 0.5, 0.3, 0, -0.3, 0.3, 0.5,
              0.5, 0, -0.5, -1.0, -0.5, -0.3, -1.0, -0.5, 0.3, -1.5, -2.5, -1.0,
              -0.5, 0, -1.5, -2.0, -2.0, -1.0, 0.5, 2.5, 2.5, 1.5, 0.5, -0.8,
              -0.5, 1.0, 2.5, 2.5, 1.5, 0.5, 1.0, 0, -0.3, -0.5, 0.3, 0.8,
              1.5, 1.5, 1.0, 1.5, 1.0, 1.5, 0.5, 0.5, 0.8, 0.5, 1.5, 0.5,
              1.0, 1.5, 1.0, 1.5, 1.0, -1.0, 0.3, 0.5, 0.5, 0, 0.5, 0.8,
              1.5, 1.3, 0.3, 1.0, 0.5, -0.5, -1.0, -1.0, 1.5, 3.5, 4.0, 4.3,
              3.8, 2.5, 2.5, 2.5, 2.8, 2.3, 2.3, 2.0, 3.8, 3.8, 3.5, 4.3,
              3.8, 4.0, 5.0, 5.5, 6.2, 2.5, 1.5, 1.0, 0.3, 0.5, -0.3, 0.3,
              0, -0.5, -0.3, 0.3, 0.3, -0.8, -0.5, -1.0, -0.5, -0.5, -1.5, -2.0,
              -0.5, -0.5, 0.3, 1.0, 0.3, 0, 0, -0.5, -0.3, -0.5, -1.3, -1.5,
              -1.0, -0.5, -0.3, -0.5, -1.0, 0.3, 0.5, 1.5, 1.3, 0.5, 0.3, -0.5,
              -1.0, -0.5, 0, -0.5, -1.0, -1.5, -1.5, -1.5, -1.0, -0.5, -0.3, -0.5,
              -0.5, 0, 0.8, 0.5, 0.8, 1.0, 1.5, 0.5, 0.3, 0.5, 1.0, 1.8,
              1.5, 0.5, 0.3, 0, 1.0, 2.0, 1.5, 1.0, 0, 0.5, 1.0, 0.8,
              0.3, 0.5, 1.0, 0.8, 0.3, 0.5, 2.0, 4.5, 7.5, 10.5, 13.3, 12.5,
              9.0, 6.5, 4.5, 3.5, 3.3, 2.5, 2.0, 1.0, 0.5, 0.5, 1.0, 0.3,
              -0.3, -1.0, -1.5, -1.3, -1.0, -1.3, -0.5, -1.2, -1.0, -0.5, -1.0, -0.3,
              -1.5, -2.5, -3.2, -3.3, -3.3]
uk_england_blue_start = 238
uk_england_blue = [-0.5, 0.5, 1.0, -0.8, -0.5, -0.5, -0.3, -0.3, -0.2]

uk_ni = [-0.3, -0.3, 0.3, 2.3, 1.8, 1.5, 1.5, 1.5, -0.3, -0.5, -0.3, -0.5,
         -1.0, -1.5, -1.3, -0.5, -0.8, -1.5, -1.5, -1.0, -0.3, -2.0, 0.3, -1.5,
         0.5, 1.5, 0.3, -0.5, 0.3, -0.3, 0.5, -0.5, -0.5, -0.8, -0.5, -1.0,
         1.8, -1.0, 0.3, -0.3, 0.3, -0.5, -2.0, 0.3, -0.5, 0.5, -0.5, -0.3,
         1.0, -0.3, 0.5, 0.8, -0.5, 1.5, -0.5, 0.5, -1.5, 0.3, -1.0, 0.5,
         1.0, -1.5, 0.5, -0.3, 1.0, -0.3, 0.3, 0.3, 0.3, 0, 0.3, 0,
         0, 0.3, 0.3, 2.8, 1.5, 0.5, 0.3, 1.0, 0.3, 0.8, -0.3, 1.0,
         -0.8, 0.5, -0.8, 0.3, -0.5, 0.8, -0.5, 0.3, 0.3, 2.3, -0.5, 0.3,
         0.5, 0, -0.5, 0.3, -0.5, 0.5, 0.3, 1.8, 0.8, 0.5, 1.5, 2.0,
         0.8, 0, 0.5, 1.0, 1.0, 0.5, 1.5, 1.5, 2.5, 2.0, 2.8, 2.5,
         3.0, 2.5, 2.8, 1.0, 0.5, 0.3, 0.8, -0.5, 0.3, 0.5, 1.0, 0.8,
         0.3, -1.5, 0, 1.0, 0.5, 1.5, 0.8, 0.5, 0.3, -0.3, 0.5, 0,
         0.3, -0.3, 0.5, 0, -1.5, 0.5, 0, -0.5, -0.5, -0.3, -0.8, -1.8,
         -0.5, -0.8, 0.5, -1.0, 0.8, 1.5, 1.0, 0.5, 1.5, -0.5, 1.3, -0.8,
         0, 1.5, 0, -0.5, 0.5, 1.3, 0.3, -1.0, 0.3, -0.3, -1.0, -1.3,
         -1.5, -2.8, -0.5, 0, -0.8, -0.5, -0.8, -1.3, 0, 0.3, 1.0, 1.5,
         0, 1.8, 0, 1.5, 1.0, 0.8, 0, 0.5, 0, 0.3, 0.5, -0.3,
         -0.5, 0, 0.3, -0.3, -0.5, 0.3, 1.5, 0, 1.5, 0.8, 2.0, 2.5,
         4.3, 3.0, 1.5, 2.0, 1.0, 0.5, 3.0, 2.5, 0.5, 0, -0.3, 0,
         0, 0, 0, 0, -0.3, -0.5, -1.0, -1.5, 1.5, 0.3, 1.5]
uk_ni_blue_start = 238
uk_ni_blue = [1.5, 1.3, 0.5, -1.0, -2.5, -1.5, -2.0, -3.0, -2.3]

uk_scotland = [-0.8, 0.8, 1.0, 0.5, 1.5, 2.5, 4.3, 2.5, 1.0, -0.5, -1.5, -2.0,
               -0.5, -1.0, -1.5, -2.0, -1.5, -1.0, -0.3, -1.0, -1.5, -1.8, -1.0, -0.5,
               0.5, -0.5, 0.5, 0.5, 0.8, 0, 0.3, 0.8, -0.5, 0.5, -0.3, 0.3,
               -0.5, -0.8, 0.3, 0, 0.3, -0.3, 0.5, -0.8, 0, 0.5, 0.3, 0,
               -1.5, -1.3, -1.5, 0.3, 2.3, 1.0, 0.8, 2.3, -0.5, -0.8, -1.5, -1.5,
               -1.0, -1.5, -1.8, -2.0, -1.5, -1.0, -0.5, 1.8, 0.5, 2.3, 1.0, 2.5,
               1.0, 0.3, 1.5, 1.0, 1.3, 0.5, 1.3, -0.3, 0.5, 1.0, -0.5, 0.5,
               0.5, -0.5, 0.8, 1.3, -0.5, 0.3, 1.5, 0.5, 1.5, -0.5, 1.0, 1.5,
               1.5, 0, -1.5, 1.5, 0.5, 1.0, 2.5, 3.0, 2.8, 2.5, 2.0, 1.5,
               0.8, 1.0, 1.5, 1.3, 0, 0, -0.5, 0.3, 0.5, 0.8, 1.0, 2.5,
               1.5, 1.0, 0.5, 1.0, 0.5, -2.0, -0.5, 0, 0, 0, -0.3, -0.5,
               -0.5, -1.0, -1.0, -1.3, -1.5, -1.8, -1.5, -0.3, -1.0, -1.8, -0.5, -1.5,
               -1.8, -0.5, -1.0, -0.3, -0.5, -0.5, -1.5, -1.0, -0.5, -0.5, -1.5, -2.0,
               -0.8, -1.0, -0.5, -1.0, -0.5, 0, 0, -0.5, -1.0, -1.5, -1.0, -1.5,
               -1.8, -1.3, -1.0, -1.0, -1.3, -1.5, -2.0, -1.5, -1.5, -0.8, -0.5, -1.0,
               -1.0, -0.3, -1.0, -0.3, 0.5, -0.5, 1.0, 0.3, 1.3, 0.8, 0.5, 1.0,
               0.3, 1.3, 0.5, 1.0, -0.3, 0, -0.3, 0.5, 1.0, 0.5, -0.5, 0.5,
               0, 0.3, 0.5, 1.0, 2.0, 2.5, 3.0, 3.5, 4.5, 3.0, 2.5, 3.5,
               4.8, 3.5, 2.0, 3.8, 3.5, 2.5, 1.5, 1.0, 1.0, 0.8, 0.5, 1.0,
               1.5, -0.3, 0.5, 0.3, 1.0, 0, 0.8, 1.0, 1.3, 1.5, 1.0, 1.3,
               1.3, -1.0, 1.5, -0.5, 0.5, 0.8]
uk_scotland_blue_start = 242
uk_scotland_blue = [1.5, 1.3, 1.0, 0.3, -0.8]

uk_wales = [0.3, 1.0, 1.5, 1.8, 3.0, 4.3, 2.8, 0.8, -0.4, 0, -0.2, -1.2,
            -2.0, -2.4, -2.5, -1.0, -2.5, -1.8, -1.0, -2.0, -1.5, 0.3, -0.8, -0.5,
            -0.3, 0.5, -0.3, -0.5, -1.0, -1.5, -0.5, 0.5, 1.2, -0.5, 0.5, -0.5,
            -0.5, -1.0, -1.0, 0.5, 0, -0.5, -1.0, -0.5, 0.3, -0.5, -0.8, -0.5,
            0.5, -0.5, -0.8, -0.8, -1.0, -1.5, -0.5, 1.5, 0.8, 0.3, -1.5, -0.5,
            -1.0, -2.2, -0.8, -1.8, -0.8, 0.3, -0.5, -1.0, 0, -1.0, -0.3, 0.3,
            0.5, -0.3, 0.5, 1.0, 1.3, 0, 0.8, 0.5, 1.0, 0.8, 0.5, -0.5,
            0.5, 1.3, 0.8, 0.5, 1.0, 1.5, 0.3, -1.0, -0.5, -0.5, 0.5, -0.3,
            1.0, -1.5, -0.3, -0.5, 0.5, -0.5, 0.5, 1.3, 0.5, 0.8, 1.0, 1.5,
            0.5, 1.5, 0.8, 0.3, 0.3, 0.3, 0, -0.5, -1.0, 0.5, 0, 2.0,
            1.2, 2.5, 1.5, 2.5, 3.5, 3.2, 2.3, 1.0, 0.5, 0.8, -0.2, 1.0,
            0.3, -0.3, 0.3, 0, 0.3, 0.3, 0.5, -1.0, -0.3, 0.3, -0.5, 0.3,
            0.5, -0.5, -0.2, 0, 0.3, -0.5, 0, -0.3, -0.8, -0.3, 0.5, -1.3,
            0.5, -0.5, -0.3, -0.3, -0.3, -0.3, 0.5, 0, -0.5, -1.0, -1.3, -0.5,
            -0.3, -0.5, -0.8, -1.3, -1.5, -1.3, -1.2, -1.0, -0.5, -1.0, 0, -0.5,
            -1.3, -0.3, 0.5, -0.3, 0, 0.3, 0.2, 0, 1.0, 2.5, 1.3, 0.5,
            0.3, 0.4, 0.5, 0.5, 0.4, 0.5, 0.5, 0.3, 0.3, 0.3, 0, 3.5,
            2.0, 0.3, 0, 0.3, -0.3, 0.5, 1.0, 2.0, 1.5, 1.8, 5.5, 4.5,
            3.0, 2.0, 1.3, 1.0, 0.5, 0, 1.0, 0.5, 0.3, -0.5, -0.5, 0,
            -2.3, -0.5, -0.8, -1.0, -1.0, -1.5, -0.5, 0.3, 0.5, 0, 0.5, -0.5,
            -1.0, -1.5, -1.5, -2.0, -1.0, -4.0]
uk_wales_blue_start = 238
uk_wales_blue = [0.8, 0.3, -0.3, -0.5, -0.5, -0.8, 0, -0.3, -0.5]

panels = [
    ("Denmark", denmark, denmark_blue_start, denmark_blue),
    ("Finland", finland, finland_blue_start, finland_blue),
    ("France", france, france_blue_start, france_blue),
    ("Greece (Athens,Axaia,Kavala,Kerkira,Magnisia,Keratsini,Pireas)", greece,
     greece_blue_start, greece_blue),
    ("Hungary", hungary, hungary_blue_start, hungary_blue),
    ("Ireland", ireland, ireland_blue_start, ireland_blue),
    ("Netherlands", netherlands, netherlands_blue_start, netherlands_blue),
    ("Norway", norway, norway_blue_start, norway_blue),
    ("Portugal", portugal, portugal_blue_start, portugal_blue),
    ("Spain", spain, spain_blue_start, spain_blue),
    ("Sweden", sweden, sweden_blue_start, sweden_blue),
    ("Switzerland", switzerland, switzerland_blue_start, switzerland_blue),
    ("UK (England)", uk_england, uk_england_blue_start, uk_england_blue),
    ("UK (Northern Ireland)", uk_ni, uk_ni_blue_start, uk_ni_blue),
    ("UK (Scotland)", uk_scotland, uk_scotland_blue_start, uk_scotland_blue),
    ("UK (Wales)", uk_wales, uk_wales_blue_start, uk_wales_blue),
]

W, H = 810, 1541
fig = plt.figure(figsize=(W / 100, H / 100), dpi=100)
font = ["Liberation Sans", "DejaVu Sans"]

for k, (name, green, bstart, blue) in enumerate(panels):
    top = 2.7 + 93.85 * k
    ph = 76.3
    ax = fig.add_axes([30 / W, 1 - (top + ph) / H, 780 / W, ph / H])

    # y range depends on the peak of the series
    peak = max(green + blue)
    if peak > 11:
        lo, hi = -7.7, 17.0
    elif peak > 8.8:
        lo, hi = -7.1, 12.4
    else:
        lo, hi = -6.7, 10.4

    for g in range(-6, int(hi) + 1, 2):
        ax.axhline(g, color="#e6e6e6", lw=1.1, zorder=1)
    for t in range(0, 241, 12):
        ax.axvline(t, color="#e3e3e3", lw=1.4, zorder=1)
    ax.axhline(4, color="#8a8a8a", lw=1.1, zorder=2)
    ax.axhline(8, color="#8a8a8a", lw=1.1, zorder=2)
    ax.axhline(0, color="#d21a4c", lw=1.3, zorder=2)

    ax.plot(range(len(green)), green, color="#0b6a0b", lw=1.1, zorder=3)
    ax.plot(range(bstart, bstart + len(blue)), blue, color="#1a1aff", lw=1.1, zorder=4)

    ax.set_xlim(-3.47, 249.2)
    ax.set_ylim(lo, hi)
    ax.set_yticks([-4, 0, 4, 8])
    ax.set_yticklabels(["-4", "0", "4", "8"], fontsize=6.8, color="#444444",
                       family=font)
    ax.tick_params(axis="y", length=3, width=0.8, color="#666666", pad=1.5)

    ax.set_xticks(range(0, 241, 12))
    if k == len(panels) - 1:
        ax.set_xticklabels(tick_labels, rotation=90, fontsize=6.8, color="#333333",
                           family=font)
        ax.tick_params(axis="x", length=4, width=0.8, color="#666666", pad=2)
    else:
        ax.set_xticklabels([])
        ax.tick_params(axis="x", length=0)

    for s in ("top", "right"):
        ax.spines[s].set_visible(False)
    for s in ("left", "bottom"):
        ax.spines[s].set_color("#666666")
        ax.spines[s].set_linewidth(1.0)
        ax.spines[s].set_zorder(6)

    ax.text(0.0057, 1 - 10 / ph, name, transform=ax.transAxes, fontsize=9,
            family=font, color="#111111", ha="left", va="center", zorder=5,
            bbox=dict(boxstyle="square,pad=0.4", facecolor="white", edgecolor="none"))

fig.savefig("out.png", dpi=100)
